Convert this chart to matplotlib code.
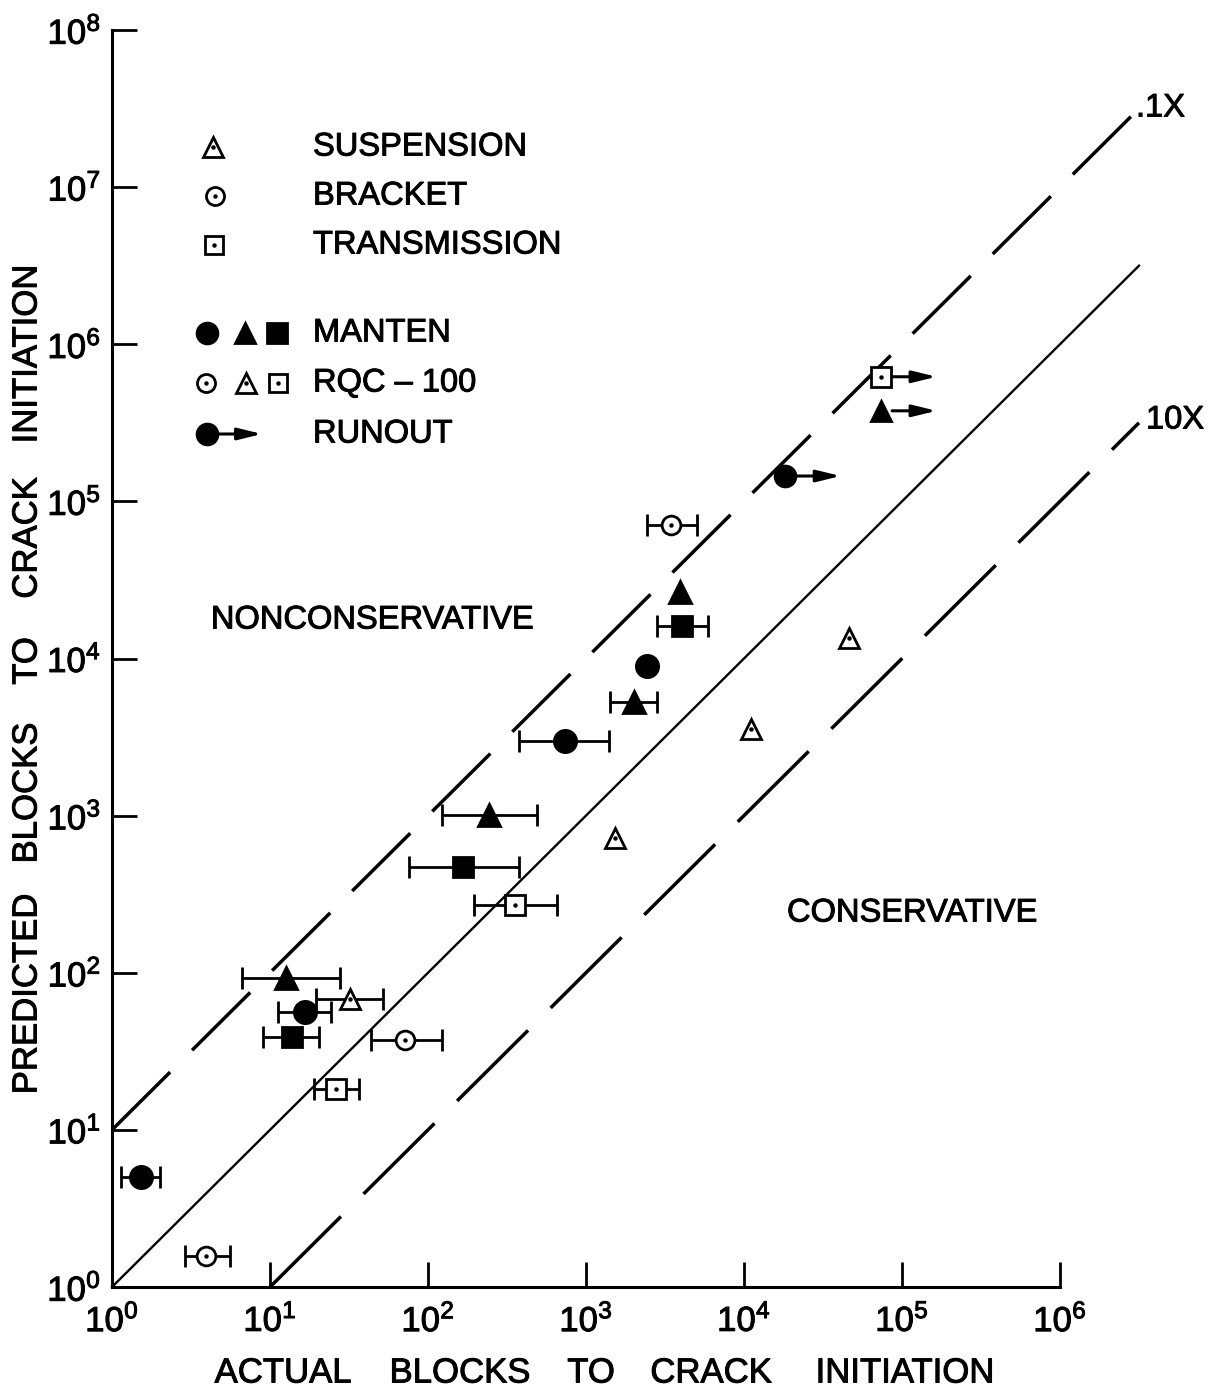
import numpy as np
import matplotlib
matplotlib.use("Agg")
import matplotlib.pyplot as plt
import matplotlib.patheffects as pe
from matplotlib.transforms import offset_copy
from matplotlib.lines import Line2D
from matplotlib.patches import FancyArrowPatch

plt.rcParams['font.family'] = ['Liberation Sans', 'DejaVu Sans']
plt.rcParams['lines.scale_dashes'] = False

# ---- data: actual vs predicted blocks to crack initiation ----
# Manten (filled) - bracket (circles)
man_circ_x = [1.53, 16.7, 736, 2430]
man_circ_y = [5.0, 56, 2990, 8970]
man_circ_lo = [1.14, 11.2, 377, np.nan]
man_circ_hi = [2.01, 24.3, 1400, np.nan]
# Manten - suspension (triangles)
man_tri_x = [12.6, 243, 2010, 3940]
man_tri_y = [93, 1010, 5300, 26500]
man_tri_lo = [6.65, 123, 1420, np.nan]
man_tri_hi = [27.7, 490, 2810, np.nan]
# Manten - transmission (squares)
man_sq_x = [13.8, 167, 4050]
man_sq_y = [39, 471, 16100]
man_sq_lo = [9.0, 75.8, 2810]
man_sq_hi = [20.4, 377, 5920]

# RQC-100 (open) - suspension (triangles)
rqc_tri_x = [32.1, 1530, 11100, 46200]
rqc_tri_y = [68, 721, 3560, 13500]
rqc_tri_lo = [19.6, np.nan, np.nan, np.nan]
rqc_tri_hi = [51.9, np.nan, np.nan, np.nan]
# RQC-100 - bracket (circles)
rqc_circ_x = [3.94, 71.5, 3450]
rqc_circ_y = [1.57, 37.4, 70800]
rqc_circ_lo = [2.90, 43.6, 2430]
rqc_circ_hi = [5.58, 123, 5040]
# RQC-100 - transmission (squares)
rqc_sq_x = [26.2, 356]
rqc_sq_y = [18.2, 270]
rqc_sq_lo = [19.0, 196]
rqc_sq_hi = [36.6, 655]

# Runouts (test stopped without a crack)
runout_x = [18200, 73600, 73600]
runout_y = [145000, 377000, 621000]
runout_marker = ['o', '^', 's']
runout_filled = [True, True, False]

x_ticks = [1e0, 1e1, 1e2, 1e3, 1e4, 1e5, 1e6]
y_ticks = [1e0, 1e1, 1e2, 1e3, 1e4, 1e5, 1e6, 1e7, 1e8]

HEAVY = [pe.withStroke(linewidth=0.7, foreground='black')]

W, H = 1223, 1395
fig = plt.figure(figsize=(W / 100, H / 100), dpi=100)
ax = fig.add_axes([112 / W, 1 - 1287 / H, (1060 - 112) / W, (1287 - 30) / H])
ax.set_xscale('log')
ax.set_yscale('log')
ax.set_xlim(1, 1e6)
ax.set_ylim(1, 1e8)

for s in ['top', 'right']:
    ax.spines[s].set_visible(False)
for s in ['left', 'bottom']:
    ax.spines[s].set_linewidth(2.2)

ax.set_xticks(x_ticks)
ax.set_yticks(y_ticks)
ax.set_xticklabels([r'$\mathregular{10^{%d}}$' % i for i in range(7)])
ax.set_yticklabels([r'$\mathregular{10^{%d}}$' % i for i in range(9)])
ax.minorticks_off()
ax.tick_params(which='major', direction='in', length=18, width=2,
               labelsize=25)
ax.tick_params(axis='x', pad=12)
ax.tick_params(axis='y', pad=8)
for lab in ax.get_xticklabels() + ax.get_yticklabels():
    lab.set_path_effects(HEAVY)

# factor lines: 1:1 (solid), factor-of-ten bounds (dashed)
ref = np.array([1.0, 10 ** 6.5])
ax.plot(ref, ref, color='black', lw=1.7, clip_on=False)
ax.plot(ref, ref * 10, color='black', lw=2.5, dashes=(59, 22.3),
        clip_on=False)
ref2 = np.array([10.0, 10 ** 6.5])
ax.plot(ref2, ref2 / 10, color='black', lw=2.5, dashes=(72, 23),
        clip_on=False)


def series(x, y, lo, hi, marker, filled, ms):
    x = np.asarray(x, float)
    y = np.asarray(y, float)
    lo = np.asarray(lo, float)
    hi = np.asarray(hi, float)
    m = ~np.isnan(lo)
    if m.any():
        ax.errorbar(x[m], y[m], xerr=[x[m] - lo[m], hi[m] - x[m]], fmt='none',
                    ecolor='black', elinewidth=2, capsize=8, capthick=2,
                    zorder=2)
    ax.plot(x, y, linestyle='none', marker=marker, ms=ms,
            mfc='black' if filled else 'white', mec='black', mew=2,
            zorder=3, clip_on=False)
    if not filled:
        ax.plot(x, y, linestyle='none', marker='o', ms=2.2, mfc='black',
                mec='black', zorder=4)


series(man_circ_x, man_circ_y, man_circ_lo, man_circ_hi, 'o', True, 16)
series(man_tri_x, man_tri_y, man_tri_lo, man_tri_hi, '^', True, 16)
series(man_sq_x, man_sq_y, man_sq_lo, man_sq_hi, 's', True, 15)
series(rqc_tri_x, rqc_tri_y, rqc_tri_lo, rqc_tri_hi, '^', False, 15)
series(rqc_circ_x, rqc_circ_y, rqc_circ_lo, rqc_circ_hi, 'o', False, 13.5)
series(rqc_sq_x, rqc_sq_y, rqc_sq_lo, rqc_sq_hi, 's', False, 14.5)

ARROW = '-|>,head_length=0.9,head_width=0.22'

# runout points with arrows
for x, y, mk, filled in zip(runout_x, runout_y, runout_marker, runout_filled):
    ax.plot([x], [y], linestyle='none', marker=mk, ms=15,
            mfc='black' if filled else 'white', mec='black', mew=2, zorder=3)
    if not filled:
        ax.plot([x], [y], linestyle='none', marker='o', ms=2.2, mfc='black',
                mec='black', zorder=4)
    ax.annotate('', xy=(x, y),
                xycoords=offset_copy(ax.transData, fig=fig, x=40, y=0, units='points'),
                xytext=(x, y),
                textcoords=offset_copy(ax.transData, fig=fig, x=8, y=0, units='points'),
                arrowprops=dict(arrowstyle=ARROW, color='black', lw=2.2,
                                mutation_scale=16, shrinkA=0, shrinkB=0))


def fp(x, y):
    return x / W, 1 - y / H


TXT = dict(fontsize=23.5, color='black', va='center', path_effects=HEAVY)

# legend (drawn as figure text and markers)
legend_rows = [('SUSPENSION', 147), ('BRACKET', 196), ('TRANSMISSION', 245),
               ('MANTEN', 333), ('RQC \u2013 100', 383), ('RUNOUT', 434)]
for label, y in legend_rows:
    fig.text(*fp(313, y), label, ha='left', **TXT)


def legend_marker(x, y, mk, filled, ms=14):
    fx, fy = fp(x, y)
    fig.add_artist(Line2D([fx], [fy], transform=fig.transFigure, marker=mk,
                          ms=ms, mfc='black' if filled else 'white',
                          mec='black', mew=2, linestyle='none'))
    if not filled:
        fig.add_artist(Line2D([fx], [fy], transform=fig.transFigure,
                              marker='o', ms=2.2, mfc='black', mec='black',
                              linestyle='none'))


legend_marker(213, 147, '^', False, 14)
legend_marker(215, 196, 'o', False, 13)
legend_marker(214, 245, 's', False, 13)
legend_marker(207, 333, 'o', True, 15)
legend_marker(245, 333, '^', True, 15)
legend_marker(277, 333, 's', True, 14)
legend_marker(206, 383, 'o', False, 13)
legend_marker(246, 383, '^', False, 14)
legend_marker(278, 383, 's', False, 13)
legend_marker(207, 434, 'o', True, 15)
fig.add_artist(FancyArrowPatch(
    fp(215, 434), fp(262, 434), transform=fig.transFigure,
    arrowstyle=ARROW, mutation_scale=16, color='black', lw=2.2,
    shrinkA=0, shrinkB=0))

# region labels
fig.text(*fp(372, 620), 'NONCONSERVATIVE', ha='center', **TXT)
fig.text(*fp(912, 913), 'CONSERVATIVE', ha='center', **TXT)
fig.text(*fp(1136, 108), '.1X', ha='left', **TXT)
fig.text(*fp(1146, 420), '10X', ha='left', **TXT)

# axis titles, word by word with wide spacing
AX = dict(fontsize=25, color='black', va='center', ha='center',
          path_effects=HEAVY)
x_words = [('ACTUAL', 283), ('BLOCKS', 460), ('TO', 591), ('CRACK', 711),
           ('INITIATION', 905)]
for w, x in x_words:
    fig.text(*fp(x, 1373), w, **AX)
y_words = [('PREDICTED', 994), ('BLOCKS', 793), ('TO', 661), ('CRACK', 538),
           ('INITIATION', 354)]
for w, y in y_words:
    fig.text(*fp(27, y), w, rotation=90, **AX)

fig.savefig('out.png', dpi=100, facecolor='white')
